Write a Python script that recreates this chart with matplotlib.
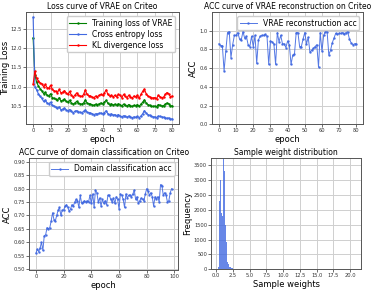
import numpy as np
import matplotlib
matplotlib.use("Agg")
import matplotlib.pyplot as plt

# ---------------------------------------------------------------------------
# data
# ---------------------------------------------------------------------------
ce_loss = [12.80, 11.00, 10.92, 10.82, 10.75, 10.70, 10.62, 10.66, 10.58, 10.56,
           10.60, 10.52, 10.50, 10.47, 10.44, 10.48, 10.40, 10.42, 10.45, 10.40,
           10.38, 10.41, 10.36, 10.33, 10.36, 10.38, 10.35, 10.34, 10.33, 10.36,
           10.40, 10.34, 10.33, 10.32, 10.30, 10.28, 10.30, 10.29, 10.31, 10.32,
           10.30, 10.33, 10.38, 10.30, 10.28, 10.30, 10.26, 10.28, 10.25, 10.28,
           10.24, 10.22, 10.25, 10.23, 10.21, 10.24, 10.22, 10.20, 10.22, 10.21,
           10.23, 10.20, 10.24, 10.30, 10.38, 10.32, 10.28, 10.26, 10.24, 10.22,
           10.22, 10.20, 10.24, 10.23, 10.22, 10.21, 10.20, 10.18, 10.19, 10.16,
           10.17]
train_loss = [12.27, 11.30, 11.12, 11.02, 10.95, 10.90, 10.82, 10.86, 10.78, 10.76,
              10.82, 10.72, 10.70, 10.68, 10.65, 10.72, 10.63, 10.65, 10.68, 10.62,
              10.60, 10.65, 10.58, 10.55, 10.58, 10.62, 10.58, 10.56, 10.55, 10.58,
              10.66, 10.58, 10.56, 10.55, 10.53, 10.52, 10.55, 10.53, 10.56, 10.58,
              10.56, 10.60, 10.65, 10.57, 10.54, 10.56, 10.52, 10.55, 10.52, 10.56,
              10.54, 10.50, 10.55, 10.52, 10.50, 10.54, 10.51, 10.49, 10.52, 10.51,
              10.54, 10.49, 10.55, 10.60, 10.66, 10.58, 10.54, 10.52, 10.50, 10.49,
              10.50, 10.48, 10.54, 10.52, 10.50, 10.51, 10.55, 10.58, 10.56, 10.50,
              10.51]
kl_loss = [11.07, 11.40, 11.22, 11.15, 11.10, 11.08, 11.00, 11.06, 10.98, 10.96,
           11.04, 10.93, 10.90, 10.88, 10.85, 10.93, 10.84, 10.86, 10.90, 10.84,
           10.80, 10.88, 10.78, 10.74, 10.78, 10.84, 10.78, 10.76, 10.75, 10.80,
           10.92, 10.80, 10.77, 10.76, 10.73, 10.72, 10.76, 10.74, 10.78, 10.80,
           10.78, 10.84, 10.92, 10.80, 10.76, 10.78, 10.74, 10.78, 10.74, 10.80,
           10.78, 10.72, 10.80, 10.75, 10.72, 10.78, 10.74, 10.71, 10.76, 10.74,
           10.78, 10.70, 10.80, 10.88, 10.94, 10.82, 10.76, 10.74, 10.72, 10.71,
           10.72, 10.69, 10.78, 10.74, 10.72, 10.73, 10.80, 10.85, 10.82, 10.74,
           10.76]

recon_acc = [0.86, 0.84, 0.84, 0.57, 0.78, 0.98, 0.99, 0.71, 0.85, 0.95,
             0.95, 0.98, 0.91, 0.90, 0.99, 0.92, 0.94, 0.85, 0.83, 0.94,
             0.83, 0.95, 0.65, 0.90, 0.94, 0.95, 0.95, 0.96, 0.94, 0.64,
             0.89, 0.88, 0.86, 0.64, 0.98, 0.88, 0.95, 0.86, 0.86, 0.82,
             0.89, 0.85, 0.64, 0.74, 0.75, 0.98, 0.98, 0.83, 0.83, 0.91,
             0.98, 0.86, 0.93, 0.77, 0.79, 0.81, 0.83, 0.85, 0.61, 0.98,
             0.78, 0.95, 0.99, 0.99, 0.74, 0.79, 0.87, 0.92, 0.97, 0.96,
             0.97, 0.97, 0.98, 0.96, 0.98, 0.99, 0.91, 0.87, 0.85, 0.86,
             0.86]

domain_acc = [0.560, 0.575, 0.565, 0.580, 0.600, 0.570, 0.625, 0.628, 0.655, 0.650,
              0.655, 0.680, 0.710, 0.685, 0.680, 0.700, 0.720, 0.730, 0.700, 0.720,
              0.720, 0.735, 0.740, 0.730, 0.715, 0.725, 0.740, 0.735, 0.750, 0.760,
              0.755, 0.730, 0.775, 0.745, 0.750, 0.755, 0.750, 0.755, 0.750, 0.775,
              0.745, 0.780, 0.730, 0.795, 0.785, 0.750, 0.765, 0.735, 0.760, 0.745,
              0.755, 0.740, 0.775, 0.775, 0.760, 0.750, 0.765, 0.745, 0.770, 0.760,
              0.725, 0.780, 0.775, 0.760, 0.730, 0.780, 0.765, 0.775, 0.775, 0.770,
              0.780, 0.795, 0.760, 0.770, 0.745, 0.755, 0.765, 0.760, 0.755, 0.780,
              0.800, 0.790, 0.775, 0.785, 0.770, 0.735, 0.770, 0.760, 0.770, 0.750,
              0.815, 0.810, 0.775, 0.785, 0.775, 0.750, 0.755, 0.785, 0.800]

# histogram of sample weights: 0.1-wide bins starting at 0.3, plus a far tail
weight_bin_start = 0.3
weight_bin_width = 0.1
weight_counts = [60, 800, 2300, 3000, 2800, 1900, 1800, 2600, 3740, 3300,
                 2200, 1500, 900, 450, 250, 160, 110, 80, 60, 45,
                 35, 28, 22, 18, 14, 11, 9, 7, 6, 5, 4, 3]
weight_tail = [(5.1, 2), (8.4, 1), (12.7, 1), (20.4, 1)]

BLUE = "royalblue"
TITLE_FS = 5.5
LABEL_FS = 6
TICK_FS = 3.7
LEG_FS = 5.5


def style(ax):
    ax.set_facecolor("white")
    ax.grid(True, color="#cfcfcf", linewidth=0.7)
    ax.set_axisbelow(True)
    for sp in ax.spines.values():
        sp.set_color("#555555")
        sp.set_linewidth(0.7)
    ax.tick_params(labelsize=TICK_FS, length=2, width=0.5, pad=1,
                   colors="#333333")


fig = plt.figure(figsize=(3.74, 2.91), dpi=100)

# --- top left: loss curves -------------------------------------------------
ax1 = fig.add_axes([0.070, 0.573, 0.409, 0.385])
style(ax1)
ep = np.arange(len(train_loss))
ax1.plot(ep, train_loss, color="green", lw=0.8, marker=".", ms=1.5,
         label="Training loss of VRAE")
ax1.plot(ep, ce_loss, color=BLUE, lw=0.8, marker=".", ms=1.5,
         label="Cross entropy loss")
ax1.plot(ep, kl_loss, color="red", lw=0.8, marker=".", ms=1.5,
         label="KL divergence loss")
ax1.set_xticks(np.arange(0, 81, 10))
ax1.set_yticks([10.5, 11.0, 11.5, 12.0, 12.5])
ax1.set_title("Loss curve of VRAE on Criteo", fontsize=TITLE_FS, pad=2)
ax1.set_xlabel("epoch", fontsize=LABEL_FS, labelpad=1)
ax1.set_ylabel("Training Loss", fontsize=LABEL_FS, labelpad=0.5)
ax1.legend(loc="upper right", fontsize=LEG_FS, handlelength=2.2,
           borderpad=0.35, labelspacing=0.25, framealpha=1, edgecolor="#cccccc")

# --- top right: reconstruction accuracy ------------------------------------
ax2 = fig.add_axes([0.567, 0.573, 0.404, 0.385])
style(ax2)
ep = np.arange(len(recon_acc))
ax2.plot(ep, recon_acc, color=BLUE, lw=0.7, marker=".", ms=1.5, alpha=0.9,
         label="VRAE reconstruction acc")
ax2.set_ylim(0, 1.197)
ax2.set_yticks(np.arange(0, 1.01, 0.2))
ax2.set_xticks(np.arange(0, 81, 10))
ax2.set_title("ACC curve of VRAE reconstruction on Criteo", fontsize=TITLE_FS, pad=2)
ax2.set_xlabel("epoch", fontsize=LABEL_FS, labelpad=1)
ax2.set_ylabel("ACC", fontsize=LABEL_FS, labelpad=1)
ax2.legend(loc="upper right", fontsize=LEG_FS, handlelength=2.2,
           borderpad=0.35, framealpha=1, edgecolor="#cccccc")

# --- bottom left: domain classification accuracy ----------------------------
ax3 = fig.add_axes([0.078, 0.072, 0.399, 0.386])
style(ax3)
ep = np.arange(len(domain_acc))
ax3.plot(ep, domain_acc, color=BLUE, lw=0.7, marker=".", ms=1.5, alpha=0.9,
         label="Domain classification acc")
ax3.set_ylim(0.497, 0.915)
ax3.set_yticks(np.arange(0.50, 0.901, 0.05))
ax3.set_xticks(np.arange(0, 101, 20))
ax3.set_title("ACC curve of domain classification on Criteo", fontsize=TITLE_FS, pad=2)
ax3.set_xlabel("epoch", fontsize=LABEL_FS, labelpad=1)
ax3.set_ylabel("ACC", fontsize=LABEL_FS, labelpad=1)
ax3.legend(loc="upper right", fontsize=LEG_FS, handlelength=2.2,
           borderpad=0.35, framealpha=1, edgecolor="#cccccc")

# --- bottom right: sample weight histogram ---------------------------------
ax4 = fig.add_axes([0.565, 0.075, 0.400, 0.383])
style(ax4)
n = len(weight_counts)
edges = weight_bin_start + weight_bin_width * np.arange(n + 1)
ax4.hist(edges[:-1], bins=edges, weights=weight_counts, color=BLUE,
         alpha=0.8, histtype="stepfilled", linewidth=0)
tail_x = [t[0] for t in weight_tail]
tail_c = [t[1] for t in weight_tail]
ax4.bar(tail_x, tail_c, width=weight_bin_width, color=BLUE, alpha=0.8)
ax4.set_xlim(-0.7, 21.6)
ax4.set_ylim(0, 3760)
ax4.set_xticks(np.arange(0, 20.1, 2.5))
ax4.set_yticks(np.arange(0, 3501, 500))
ax4.set_title("Sample weight distribution", fontsize=TITLE_FS, pad=2)
ax4.set_xlabel("Sample weights", fontsize=LABEL_FS, labelpad=1)
ax4.set_ylabel("Frequency", fontsize=LABEL_FS, labelpad=1)

fig.savefig("out.png", dpi=100, facecolor="white")
